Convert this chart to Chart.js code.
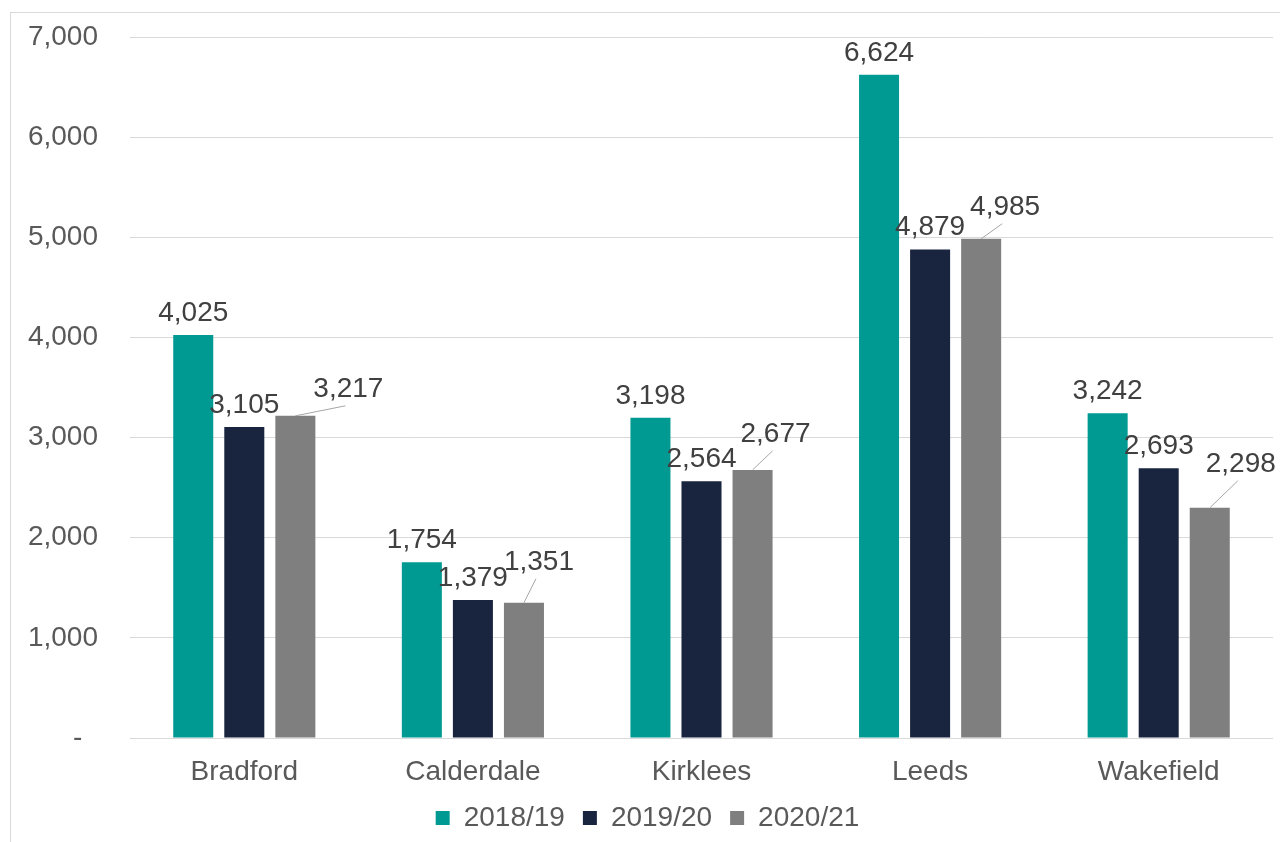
<!DOCTYPE html>
<html>
<head>
<meta charset="utf-8">
<script src="https://cdn.jsdelivr.net/npm/chart.js@4.4.1/dist/chart.umd.min.js"></script>
<style>
  body { margin: 0; background: #fff; }
</style>
</head>
<body>
<canvas id="chart" width="1280" height="842"></canvas>
<script>
var districts = ['Bradford', 'Calderdale', 'Kirklees', 'Leeds', 'Wakefield'];
var seriesNames = ['2018/19', '2019/20', '2020/21'];
var values1819 = [4025, 1754, 3198, 6624, 3242];
var values1920 = [3105, 1379, 2564, 4879, 2693];
var values2021 = [3217, 1351, 2677, 4985, 2298];
var yTicks = [0, 1000, 2000, 3000, 4000, 5000, 6000, 7000];

var colors = ['#009a93', '#19243f', '#7f7f7f'];

Chart.defaults.font.family = '"Liberation Sans", Arial, sans-serif';
Chart.defaults.font.size = 28;
Chart.defaults.color = '#595959';

// label nudges (dx, baseline dy from bar top) for the grey bars, which have leader lines
var greyNudge = [[53, -19], [15, -33], [23, -28], [24, -24], [31, -36]];

var valueLabels = {
  id: 'valueLabels',
  afterDatasetsDraw: function(chart) {
    var ctx = chart.ctx;
    ctx.save();
    ctx.font = '28px "Liberation Sans", Arial, sans-serif';
    ctx.fillStyle = '#404040';
    ctx.textAlign = 'center';
    ctx.textBaseline = 'alphabetic';
    chart.data.datasets.forEach(function(ds, di) {
      var meta = chart.getDatasetMeta(di);
      meta.data.forEach(function(bar, i) {
        var txt = ds.data[i].toLocaleString('en-US');
        if (di === 2) {
          var lx = bar.x + greyNudge[i][0];
          var ly = bar.y + greyNudge[i][1];
          ctx.strokeStyle = '#a6a6a6';
          ctx.lineWidth = 1;
          ctx.beginPath();
          ctx.moveTo(bar.x, bar.y);
          ctx.lineTo(lx - 3, ly + 9);
          ctx.stroke();
          ctx.fillText(txt, lx, ly);
        } else {
          ctx.fillText(txt, bar.x, bar.y - 14);
        }
      });
    });
    ctx.restore();
  }
};

var frame = {
  id: 'frame',
  beforeDraw: function(chart) {
    var ctx = chart.ctx;
    ctx.save();
    ctx.strokeStyle = '#d9d9d9';
    ctx.lineWidth = 1;
    ctx.strokeRect(10.5, 12.5, 1290, 860);
    ctx.restore();
  }
};

var chart = new Chart(document.getElementById('chart').getContext('2d'), {
  type: 'bar',
  data: {
    labels: districts,
    datasets: [
      { label: seriesNames[0], data: values1819, backgroundColor: colors[0] },
      { label: seriesNames[1], data: values1920, backgroundColor: colors[1] },
      { label: seriesNames[2], data: values2021, backgroundColor: colors[2] }
    ]
  },
  options: {
    responsive: false,
    animation: false,
    categoryPercentage: 0.67,
    barPercentage: 0.784,
    layout: { padding: { left: 22, right: 7, top: 37, bottom: 0 } },
    scales: {
      x: {
        grid: { display: false },
        border: { display: false },
        ticks: { padding: 9, color: '#595959' },
        afterFit: function(s) { s.height = 48; }
      },
      y: {
        min: 0,
        max: 7000,
        afterBuildTicks: function(s) {
          s.ticks = yTicks.map(function(v) { return { value: v }; });
        },
        ticks: {
          padding: 32,
          color: '#595959',
          callback: function(v) { return v === 0 ? '-  ' : v.toLocaleString('en-US'); }
        },
        grid: { color: '#d9d9d9', drawTicks: false },
        border: { display: false },
        afterFit: function(s) {
          s.width = 108;
          s.paddingTop = 16;
          s.paddingBottom = 16;
        }
      }
    },
    plugins: {
      legend: {
        position: 'bottom',
        labels: { boxWidth: 14, boxHeight: 14, padding: 18, color: '#595959' }
      },
      tooltip: { enabled: false }
    }
  },
  plugins: [frame, valueLabels]
});
</script>
</body>
</html>
